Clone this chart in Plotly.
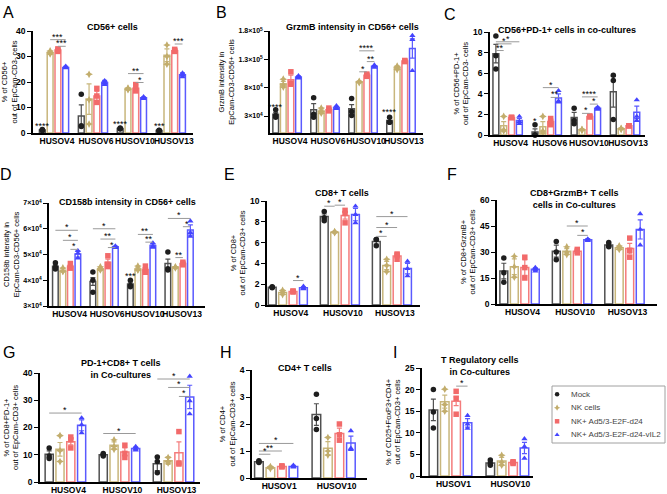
import plotly.graph_objects as go

# ---------------- data ----------------
CONDITIONS = ["Mock", "NK cells", "NK+ Ad5/3-E2F-d24", "NK+ Ad5/3-E2F-d24-vIL2"]

# Panel A: CD56+ cells
A_groups = ["HUSOV4", "HUSOV6", "HUSOV10", "HUSOV13"]
A_mean = [[1.2, 6.7, 1.8, 1.0], [31.5, 13.3, 17.3, 30.5], [32.5, 14.5, 17.5, 32.3], [25.7, 19.8, 13.8, 22.8]]
A_sem = [[0.2, 4.3, 0.2, 0.1], [0.5, 6.0, 0.3, 2.5], [0.5, 1.8, 1.4, 0.5], [0.4, 0.8, 0.4, 0.8]]
A_pts = [[[1.0, 1.2, 1.4], [15.2, 2.5, 2.8], [1.6, 1.8, 2.0], [0.9, 1.0, 1.1]],
         [[31.0, 31.5, 32.2], [23.0, 13.0, 3.5], [17.0, 17.3, 17.6], [34.5, 30.0, 27.0]],
         [[32.0, 32.5, 33.0], [17.5, 14.5, 12.0], [19.0, 17.0, 16.5], [32.0, 32.3, 32.8]],
         [[25.5, 25.7, 26.2], [20.5, 19.8, 19.0], [13.5, 13.8, 14.2], [22.0, 22.8, 23.5]]]
A_sig = [(0, 1, 3, 36.6, "***"), (0, 2, 3, 34.0, "***"), (2, 1, 3, 23.3, "**"),
         (2, 2, 3, 19.8, "*"), (3, 2, 3, 34.9, "***")]
A_marks = [(0, 0, 1.6, "****"), (2, 0, 2.2, "****"), (3, 0, 1.4, "***")]
A_ticks = [0, 10, 20, 30, 40]
A_ticktext = ["0", "10", "20", "30", "40"]

# Panel B: GrzmB intensity in CD56+ cells
B_groups = ["HUSOV4", "HUSOV6", "HUSOV10", "HUSOV13"]
B_mean = [[33000, 41000, 43000, 22000], [87000, 39000, 90000, 115000],
          [94000, 41000, 102000, 127000], [99000, 45000, 118000, 149000]]
B_sem = [[3000, 11000, 7000, 4000], [4000, 3000, 1000, 2000], [8000, 2000, 2000, 1000], [2000, 2000, 1000, 17000]]
B_pts = [[[41000, 31000, 28000], [62000, 28000, 33000], [61000, 38000, 31000], [28000, 19000, 19000]],
         [[95000, 85000, 81000], [44000, 38000, 35000], [91000, 90000, 89000], [118000, 115000, 112000]],
         [[108000, 88000, 86000], [44000, 41000, 39000], [104000, 102000, 100000], [128000, 127000, 126000]],
         [[101000, 99000, 97000], [48000, 44000, 43000], [120000, 118000, 116000], [172000, 165000, 110000]]]
B_sig = [(2, 1, 3, 145000, "****"), (2, 2, 3, 126000, "**"), (2, 1, 2, 108000, "*")]
B_marks = [(0, 0, 40000, "****"), (3, 0, 31000, "****")]
B_ticks = [30000, 80000, 130000, 180000]
B_ticktext = ["3×10<sup>4</sup>", "8×10<sup>4</sup>", "1.3×10<sup>5</sup>", "1.8×10<sup>5</sup>"]

# Panel C: CD56+PD-1+ cells in co-cultures
C_groups = ["HUSOV4", "HUSOV6", "HUSOV10", "HUSOV13"]
C_mean = [[7.9, 0.3, 1.7, 4.2], [0.9, 0.8, 0.5, 0.6], [1.7, 1.3, 1.8, 0.9], [1.4, 3.6, 2.6, 2.2]]
C_sem = [[0.9, 0.3, 0.5, 1.5], [0.4, 0.5, 0.05, 0.05], [0.05, 0.3, 0.1, 0.05], [0.2, 0.4, 0.1, 0.6]]
C_pts = [[[9.6, 7.7, 6.4], [0.0, 0.0, 1.0], [2.6, 1.4, 1.1], [5.8, 5.3, 1.5]],
         [[1.8, 0.5, 0.4], [1.8, 0.4, 0.2], [0.55, 0.5, 0.45], [0.65, 0.6, 0.55]],
         [[1.7, 1.7, 1.7], [1.6, 1.3, 1.0], [1.85, 1.8, 1.75], [0.9, 0.9, 0.9]],
         [[1.8, 1.3, 1.1], [4.3, 3.3, 3.2], [2.7, 2.6, 2.5], [3.4, 1.8, 1.4]]]
C_sig = [(0, 0, 1, 8.2, "**"), (0, 0, 2, 8.85, "*"), (0, 0, 3, 9.05, "*"),
         (1, 1, 3, 4.6, "*"), (1, 2, 3, 3.65, "**"),
         (2, 1, 3, 3.7, "****"), (2, 2, 3, 3.0, "*"), (2, 1, 2, 2.1, "*")]
C_marks = [(1, 0, 1.1, "*")]
C_ticks = [0, 2, 4, 6, 8, 10]
C_ticktext = ["0", "2", "4", "6", "8", "10"]

# Panel D: CD158b intensity in CD56+ cells
D_groups = ["HUSOV4", "HUSOV6", "HUSOV10", "HUSOV13"]
D_mean = [[45400, 39500, 38500, 46500], [43900, 44500, 44500, 45000],
          [45400, 47000, 44200, 46500], [50200, 53000, 53500, 59500]]
D_sem = [[600, 1500, 800, 1700], [600, 500, 500, 200], [600, 1200, 600, 300], [1200, 300, 600, 2000]]
D_pts = [[[46800, 45000, 44400], [43200, 40000, 35300], [40000, 38000, 37500], [51000, 44500, 44000]],
         [[44800, 43500, 43400], [45200, 44300, 44000], [45500, 44000, 44000], [45200, 45000, 44800]],
         [[46500, 45000, 44700], [49500, 46200, 45300], [45500, 44000, 43100], [47000, 46500, 46000]],
         [[51500, 50500, 48600], [53300, 53000, 52700], [54500, 53200, 52800], [63000, 58500, 57000]]]
D_sig = [(0, 0, 3, 59400, "*"), (0, 1, 3, 55500, "*"), (0, 2, 3, 52000, "*"),
         (1, 0, 3, 60000, "*"), (1, 1, 3, 56000, "**"), (1, 2, 3, 52700, "*"),
         (2, 1, 3, 57800, "**"), (2, 2, 3, 54800, "**"),
         (3, 0, 3, 64000, "*"), (3, 2, 3, 60800, "*"), (3, 1, 2, 48800, "**")]
D_marks = [(2, 0, 40300, "***")]
D_ticks = [30000, 40000, 50000, 60000, 70000]
D_ticktext = ["3×10<sup>4</sup>", "4×10<sup>4</sup>", "5×10<sup>4</sup>", "6×10<sup>4</sup>", "7×10<sup>4</sup>"]

# Panel E: CD8+ T cells
E_groups = ["HUSOV4", "HUSOV10", "HUSOV13"]
E_mean = [[1.7, 8.5, 6.1], [1.2, 7.0, 3.8], [1.3, 8.6, 4.7], [1.65, 8.7, 3.5]]
E_sem = [[0.05, 0.25, 0.25], [0.15, 0.05, 0.4], [0.05, 0.35, 0.2], [0.1, 0.6, 0.5]]
E_pts = [[[1.75, 1.7, 1.65], [9.0, 8.4, 8.1], [6.3, 6.3, 5.7]],
         [[1.4, 1.2, 1.0], [7.05, 7.0, 6.95], [4.4, 3.8, 3.2]],
         [[1.35, 1.3, 1.25], [9.1, 8.8, 7.9], [4.9, 4.8, 4.4]],
         [[1.8, 1.6, 1.55], [9.5, 8.7, 7.9], [4.2, 3.5, 2.8]]]
E_sig = [(0, 2, 3, 2.35, "*"), (1, 0, 1, 9.5, "*"), (1, 1, 2, 9.6, "*"),
         (2, 0, 3, 8.5, "*"), (2, 0, 2, 7.45, "*"), (2, 0, 1, 6.6, "*")]
E_marks = []
E_ticks = [0, 2, 4, 6, 8, 10]
E_ticktext = ["0", "2", "4", "6", "8", "10"]

# Panel F: CD8+GrzmB+ T cells
F_groups = ["HUSOV4", "HUSOV10", "HUSOV13"]
F_mean = [[19.0, 30.5, 34.0], [21.5, 30.5, 32.5], [21.0, 30.5, 32.0], [20.0, 37.0, 43.0]]
F_sem = [[4.5, 3.5, 0.8], [4.5, 1.5, 0.8], [4.5, 1.0, 3.0], [0.8, 0.8, 5.5]]
F_pts = [[[26.5, 18.0, 12.5], [36.0, 30.0, 25.5], [35.5, 33.5, 33.0]],
         [[27.5, 21.5, 15.5], [33.0, 30.0, 28.5], [33.5, 32.5, 31.5]],
         [[27.0, 21.0, 15.0], [31.5, 30.5, 29.5], [38.0, 31.0, 27.0]],
         [[21.0, 20.0, 19.0], [37.5, 37.0, 36.5], [52.0, 43.0, 34.0]]]
F_sig = [(1, 1, 3, 45.0, "*"), (1, 2, 3, 39.6, "*")]
F_marks = []
F_ticks = [0, 15, 30, 45, 60]
F_ticktext = ["0", "15", "30", "45", "60"]

# Panel G: PD-1+CD8+ T cells
G_groups = ["HUSOV4", "HUSOV10", "HUSOV13"]
G_mean = [[10.2, 10.0, 6.7], [12.0, 13.5, 7.8], [14.8, 11.0, 10.7], [20.8, 12.3, 31.2]]
G_sem = [[1.2, 0.3, 2.5], [2.5, 1.2, 1.3], [1.2, 1.5, 4.0], [2.0, 0.5, 4.3]]
G_pts = [[[12.5, 9.5, 8.6], [10.5, 10.0, 9.5], [9.2, 7.5, 3.4]],
         [[17.0, 11.5, 7.5], [15.5, 13.0, 12.0], [9.0, 7.5, 7.0]],
         [[16.5, 15.5, 12.5], [13.5, 10.5, 9.0], [18.5, 7.0, 6.6]],
         [[23.5, 21.0, 18.0], [13.0, 12.2, 11.7], [38.8, 29.8, 25.0]]]
G_sig = [(0, 0, 3, 25.3, "*"), (1, 0, 3, 17.8, "*"),
         (2, 0, 3, 37.8, "*"), (2, 1, 3, 34.7, "*"), (2, 2, 3, 31.4, "*")]
G_marks = []
G_ticks = [0, 10, 20, 30, 40]
G_ticktext = ["0", "10", "20", "30", "40"]

# Panel H: CD4+ T cells
H_groups = ["HUSOV1", "HUSOV10"]
H_mean = [[0.6, 2.35], [0.38, 1.1], [0.43, 1.65], [0.43, 1.3]]
H_sem = [[0.03, 0.4], [0.03, 0.25], [0.02, 0.2], [0.04, 0.25]]
H_pts = [[[0.64, 0.6, 0.57], [3.1, 2.2, 1.8]],
         [[0.42, 0.38, 0.35], [1.5, 1.0, 0.85]],
         [[0.45, 0.43, 0.41], [2.0, 1.6, 1.4]],
         [[0.47, 0.43, 0.4], [1.75, 1.1, 1.05]]]
H_sig = [(0, 0, 3, 1.28, "*"), (0, 0, 2, 1.0, "**"), (0, 0, 1, 0.88, "*")]
H_marks = []
H_ticks = [0, 1, 2, 3, 4]
H_ticktext = ["0", "1", "2", "3", "4"]

# Panel I: T regulatory cells
I_groups = ["HUSOV1", "HUSOV10"]
I_mean = [[15.3, 3.0], [17.2, 3.5], [17.3, 3.1], [12.3, 6.5]]
I_sem = [[2.5, 0.3], [1.5, 0.8], [1.0, 0.2], [1.0, 1.3]]
I_pts = [[[20.0, 14.8, 11.1], [3.7, 2.9, 2.5]],
         [[20.1, 16.5, 15.0], [4.8, 3.2, 2.5]],
         [[19.6, 18.0, 14.3], [3.3, 3.1, 2.9]],
         [[14.0, 12.0, 11.0], [8.6, 6.8, 4.1]]]
I_sig = [(0, 2, 3, 20.8, "*")]
I_marks = []
I_ticks = [0, 5, 10, 15, 20, 25]
I_ticktext = ["0", "5", "10", "15", "20", "25"]

# ---------------- styling / layout ----------------
W, H = 667, 494
FONT = "Liberation Sans"
BAR_COLORS = ["#505050", "#c8b67c", "#f47c7c", "#5a5aff"]
PT_COLORS = ["#1e1e1e", "#c2ad6c", "#f26a6a", "#4444ff"]
SYMBOLS = ["circle", "star-diamond", "square", "triangle-up"]
OFFS = [-0.3, -0.1, 0.1, 0.3]


def fx(p):
    return p / W


def fy(p):
    return 1 - p / H


panels = [
    dict(letter="A", groups=A_groups, mean=A_mean, sem=A_sem, pts=A_pts, sig=A_sig, marks=A_marks,
         ticks=A_ticks, ticktext=A_ticktext, yr=[0, 40], px=(33, 193), py=(31, 133), xr=[-0.54, 3.57],
         title="CD56+ cells", tpos=(113, 27), lpos=(8, 13), tfs=8.5,
         ytitle="% of CD56+<br>out of EpCam-CD3- cells"),
    dict(letter="B", groups=B_groups, mean=B_mean, sem=B_sem, pts=B_pts, sig=B_sig, marks=B_marks,
         ticks=B_ticks, ticktext=B_ticktext, yr=[0, 180000], px=(270, 423), py=(31, 133), xr=[-0.45, 3.58],
         title="GrzmB intensity in CD56+ cells", tpos=(352, 27), lpos=(221, 13), tfs=7,
         ytitle="GrzmB intensity in<br>EpCam-CD3-CD56+ cells"),
    dict(letter="C", groups=C_groups, mean=C_mean, sem=C_sem, pts=C_pts, sig=C_sig, marks=C_marks,
         ticks=C_ticks, ticktext=C_ticktext, yr=[0, 10], px=(490, 645), py=(32, 135), xr=[-0.45, 3.51],
         title="CD56+PD-1+ cells in co-cultures", tpos=(567, 30), lpos=(450, 14), tfs=8.5,
         ytitle="% of CD56+PD-1+<br>out of EpCam-CD3- cells"),
    dict(letter="D", groups=D_groups, mean=D_mean, sem=D_sem, pts=D_pts, sig=D_sig, marks=D_marks,
         ticks=D_ticks, ticktext=D_ticktext, yr=[30000, 70000], px=(49, 205), py=(203, 306), xr=[-0.47, 3.69],
         title="CD158b intensity in CD56+ cells", tpos=(127, 202), lpos=(6, 175), tfs=7,
         ytitle="CD158b intensity in<br>EpCam-CD3-CD56+ cells"),
    dict(letter="E", groups=E_groups, mean=E_mean, sem=E_sem, pts=E_pts, sig=E_sig, marks=E_marks,
         ticks=E_ticks, ticktext=E_ticktext, yr=[0, 10], px=(267, 420), py=(201, 305), xr=[-0.4, 2.54],
         title="CD8+ T cells", tpos=(342, 193), lpos=(229, 175), tfs=8.5,
         ytitle="% of CD8+<br>out of EpCam-CD3+ cells"),
    dict(letter="F", groups=F_groups, mean=F_mean, sem=F_sem, pts=F_pts, sig=F_sig, marks=F_marks,
         ticks=F_ticks, ticktext=F_ticktext, yr=[0, 60], px=(497, 657), py=(200, 304), xr=[-0.43, 2.62],
         title="CD8+GrzmB+ T cells<br>cells in Co-cultures", tpos=(574, 199), lpos=(452, 175), tfs=8.5,
         ytitle="% of CD8+GrzmB+<br>out of EpCam-CD3+ cells"),
    dict(letter="G", groups=G_groups, mean=G_mean, sem=G_sem, pts=G_pts, sig=G_sig, marks=G_marks,
         ticks=G_ticks, ticktext=G_ticktext, yr=[0, 40], px=(40, 200), py=(373, 482), xr=[-0.47, 2.49],
         title="PD-1+CD8+ T cells<br>in Co-cultures", tpos=(121, 369), lpos=(9, 352), tfs=8.5,
         ytitle="% of CD8+PD-1+<br>out of EpCam-CD3+ cells"),
    dict(letter="H", groups=H_groups, mean=H_mean, sem=H_sem, pts=H_pts, sig=H_sig, marks=H_marks,
         ticks=H_ticks, ticktext=H_ticktext, yr=[0, 4], px=(252, 367), py=(370, 478), xr=[-0.42, 1.58],
         title="CD4+ T cells", tpos=(305, 368), lpos=(226, 352), tfs=8.5,
         ytitle="% of CD4+<br>out of EpCam-CD3+ cells"),
    dict(letter="I", groups=I_groups, mean=I_mean, sem=I_sem, pts=I_pts, sig=I_sig, marks=I_marks,
         ticks=I_ticks, ticktext=I_ticktext, yr=[0, 25], px=(422, 533), py=(368, 476), xr=[-0.5, 1.45],
         title="T Regulatory cells<br>in Co-cultures", tpos=(480, 366), lpos=(395, 352), tfs=8.5,
         ytitle="% of CD25+FoxP3+CD4+<br>out of EpCam-CD3+ cells"),
]

fig = go.Figure()
shapes = []
annotations = []
layout_axes = {}

for i, P in enumerate(panels, start=1):
    xa = "x" if i == 1 else f"x{i}"
    ya = "y" if i == 1 else f"y{i}"
    ng = len(P["groups"])
    for c in range(4):
        xs = [g + OFFS[c] for g in range(ng)]
        fig.add_trace(go.Bar(
            x=xs, y=P["mean"][c], width=0.15, xaxis=xa, yaxis=ya, showlegend=False,
            marker=dict(color="white", line=dict(color=BAR_COLORS[c], width=1.5)),
            error_y=dict(type="data", array=P["sem"][c], visible=True, color=BAR_COLORS[c],
                         thickness=1.2, width=2.5),
            hoverinfo="skip"))
    for c in range(4):
        px_, py_ = [], []
        for g in range(ng):
            for v in P["pts"][c][g]:
                px_.append(g + OFFS[c])
                py_.append(v)
        fig.add_trace(go.Scatter(
            x=px_, y=py_, mode="markers", xaxis=xa, yaxis=ya, name=CONDITIONS[c],
            showlegend=False, cliponaxis=False,
            marker=dict(symbol=SYMBOLS[c], size=5.5, color=PT_COLORS[c], line=dict(width=0))))
    for (g, a, b, yv, txt) in P["sig"]:
        x0, x1 = g + OFFS[a], g + OFFS[b]
        shapes.append(dict(type="line", xref=xa, yref=ya, x0=x0, x1=x1, y0=yv, y1=yv,
                           line=dict(color="#9a9a9a", width=1)))
        annotations.append(dict(x=(x0 + x1) / 2, y=yv, xref=xa, yref=ya, text=txt, showarrow=False,
                                yanchor="bottom", yshift=-4, font=dict(size=9, color="black", family=FONT)))
    for (g, c, yv, txt) in P["marks"]:
        annotations.append(dict(x=g + OFFS[c], y=yv, xref=xa, yref=ya, text=txt, showarrow=False,
                                yanchor="bottom", yshift=-4, font=dict(size=9, color="black", family=FONT)))
    # panel title and letter
    annotations.append(dict(x=fx(P["tpos"][0]), y=fy(P["tpos"][1]), xref="paper", yref="paper",
                            text="<b>" + P["title"] + "</b>", showarrow=False, xanchor="center",
                            yanchor="middle", font=dict(size=9, color="black", family=FONT)))
    annotations.append(dict(x=fx(P["lpos"][0]), y=fy(P["lpos"][1]), xref="paper", yref="paper",
                            text=P["letter"], showarrow=False, xanchor="center", yanchor="middle",
                            font=dict(size=16, color="black", family=FONT)))
    xkey = "xaxis" if i == 1 else f"xaxis{i}"
    ykey = "yaxis" if i == 1 else f"yaxis{i}"
    layout_axes[xkey] = dict(
        domain=[fx(P["px"][0]), fx(P["px"][1])], range=P["xr"], anchor=ya, automargin=False,
        tickvals=list(range(ng)), ticktext=P["groups"], ticks="", showline=True, tickangle=0,
        ticklabelshift=3, ticklabelstandoff=-1,
        linecolor="black", linewidth=1.5, showgrid=False, zeroline=False, fixedrange=True,
        tickfont=dict(family=FONT, size=8.5, color="black", weight="bold"))
    layout_axes[ykey] = dict(
        domain=[fy(P["py"][1]), fy(P["py"][0])], range=P["yr"], anchor=xa, automargin=False,
        tickvals=P["ticks"], ticktext=P["ticktext"], ticks="outside", ticklen=4, tickwidth=1.2,
        tickcolor="black", showline=True, linecolor="black", linewidth=1.5, showgrid=False,
        zeroline=False, fixedrange=True,
        tickfont=dict(family=FONT, size=P["tfs"], color="black", weight="bold"),
        title=dict(text=P["ytitle"], font=dict(family=FONT, size=7.5, color="black"), standoff=3))

# ---------------- manual legend (compact) ----------------
LEG_X = (552, 665)
LEG_Y = (386, 443)
n = len(CONDITIONS)
leg_rows = [n - 0.5 - k for k in range(n)]
for c in range(n):
    fig.add_trace(go.Scatter(
        x=[0.045], y=[leg_rows[c]], mode="markers", xaxis="x10", yaxis="y10", showlegend=False,
        hoverinfo="skip", marker=dict(symbol=SYMBOLS[c], size=4.5, color=PT_COLORS[c], line=dict(width=0))))
    annotations.append(dict(x=0.15, y=leg_rows[c], xref="x10", yref="y10", text=CONDITIONS[c],
                            showarrow=False, xanchor="left", yanchor="middle",
                            font=dict(size=8, color="#444444", family=FONT)))
layout_axes["xaxis10"] = dict(domain=[fx(LEG_X[0]), fx(LEG_X[1])], range=[0, 1], visible=False,
                              anchor="y10", fixedrange=True, automargin=False)
layout_axes["yaxis10"] = dict(domain=[fy(LEG_Y[1]), fy(LEG_Y[0])], range=[-0.1, n + 0.1], visible=False,
                              anchor="x10", fixedrange=True, automargin=False)
shapes.append(dict(type="rect", xref="paper", yref="paper", x0=fx(LEG_X[0]), x1=fx(LEG_X[1]),
                   y0=fy(LEG_Y[1]), y1=fy(LEG_Y[0]), line=dict(color="#a0a0a0", width=1)))

fig.update_layout(
    width=W, height=H, margin=dict(l=0, r=0, t=0, b=0, autoexpand=False),
    paper_bgcolor="white", plot_bgcolor="white", barmode="overlay", showlegend=False,
    font=dict(family=FONT, color="black"),
    shapes=shapes, annotations=annotations,
    **layout_axes)

fig.write_html("out.html", config={"displayModeBar": False},
               post_script="document.body.style.margin='0';document.body.style.padding='0';")
